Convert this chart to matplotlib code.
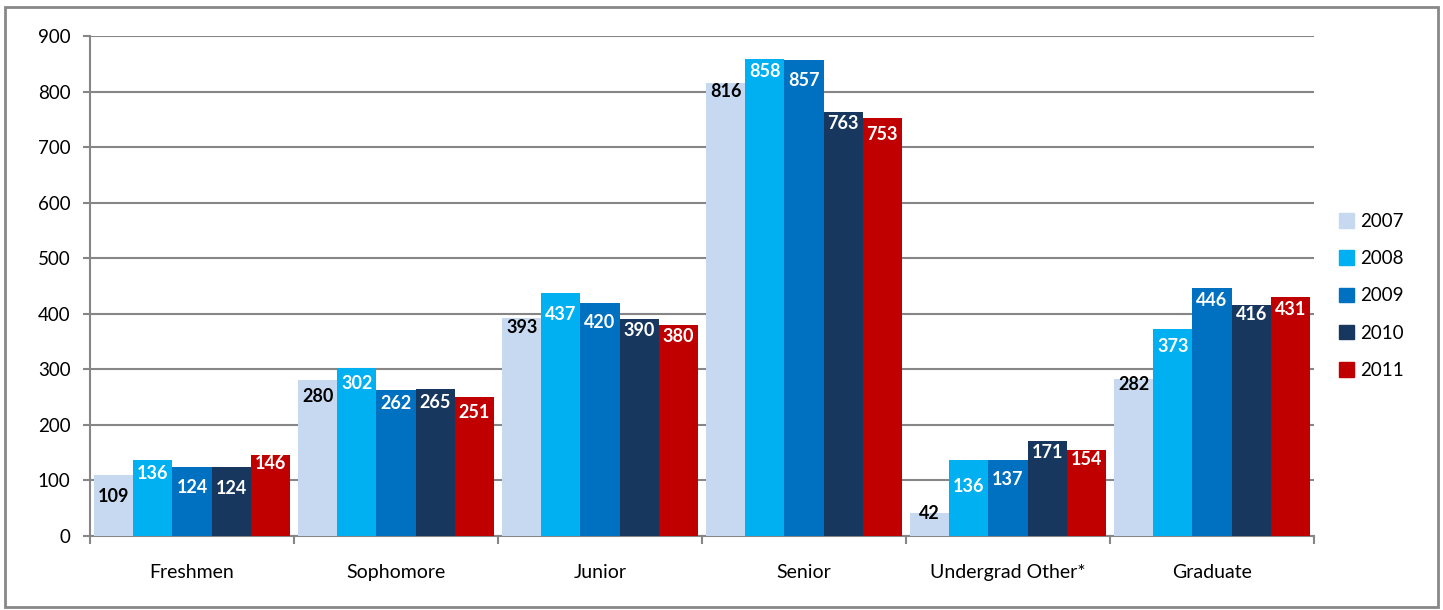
import matplotlib
matplotlib.use("Agg")
import matplotlib.pyplot as plt
import numpy as np
from matplotlib.patches import Rectangle

categories = ["Freshmen", "Sophomore", "Junior", "Senior", "Undergrad Other*", "Graduate"]
years = ["2007", "2008", "2009", "2010", "2011"]
v2007 = [109, 280, 393, 816, 42, 282]
v2008 = [136, 302, 437, 858, 136, 373]
v2009 = [124, 262, 420, 857, 137, 446]
v2010 = [124, 265, 390, 763, 171, 416]
v2011 = [146, 251, 380, 753, 154, 431]
series = [v2007, v2008, v2009, v2010, v2011]

# label offsets below bar top (pixels), per series
off2007 = [21, 16, 10, 9, 1, 5]
off2008 = [13, 15, 21, 12, 26, 18]
off2009 = [20, 13, 20, 21, 20, 12]
off2010 = [21, 14, 11, 11, 11, 10]
off2011 = [9, 16, 12, 17, 9, 13]
offsets = [off2007, off2008, off2009, off2010, off2011]

colors = ["#C6D9F1", "#00B0F0", "#0070C0", "#17375E", "#C00000"]
label_colors = ["black", "white", "white", "white", "white"]

FONT = ["Lato", "DejaVu Sans"]
plt.rcParams["font.family"] = FONT

W, H = 1443, 610
fig = plt.figure(figsize=(W / 100, H / 100), dpi=100)
ax = fig.add_axes([90 / W, (H - 536) / H, (1314 - 90) / W, 500 / H])

bw = 0.192
x = np.arange(len(categories))
for i, (vals, c) in enumerate(zip(series, colors)):
    pos = x - 0.5 + 0.02 + bw * (i + 0.5)
    ax.bar(pos, vals, width=bw, color=c, zorder=3, label=years[i])
    for p, v, o in zip(pos, vals, offsets[i]):
        ax.annotate(str(v), (p, v), xytext=(0, -o * 0.72), textcoords="offset points",
                    ha="center", va="center", fontsize=13, fontweight="bold",
                    color=label_colors[i], zorder=4)

ax.set_xlim(-0.5, len(categories) - 0.5)
ax.set_ylim(0, 900)
ax.set_yticks(range(0, 901, 100))
ax.yaxis.grid(True, color="#868686", linewidth=1.5, zorder=0)
ax.set_axisbelow(True)
for s in ["top", "right"]:
    ax.spines[s].set_visible(False)
for s in ["left", "bottom"]:
    ax.spines[s].set_color("#868686")
    ax.spines[s].set_linewidth(1.5)
ax.set_xticks(np.arange(-0.5, len(categories), 1.0))
ax.set_xticklabels([])
ax.set_xticks(x, minor=True)
ax.set_xticklabels(categories, minor=True, fontsize=14)
ax.tick_params(axis="x", which="minor", length=0, pad=20)
ax.tick_params(axis="x", which="major", length=6, width=1.5, color="#868686")
ax.tick_params(axis="y", length=5, width=1.5, color="#868686", labelsize=13.5, pad=9)

handles = [Rectangle((0, 0), 1, 1, color=c) for c in colors]
fig.legend(handles, years, loc="upper left", bbox_to_anchor=(1322 / W, 1 - 196 / H),
           frameon=False, fontsize=13.5, handlelength=0.8, handleheight=0.8,
           labelspacing=1.08, handletextpad=0.35)

fig.patches.append(Rectangle((5 / W, 3 / H), 1433 / W, 600 / H, transform=fig.transFigure,
                             fill=False, edgecolor="#888888", linewidth=2))

fig.savefig("out.png", dpi=100)
